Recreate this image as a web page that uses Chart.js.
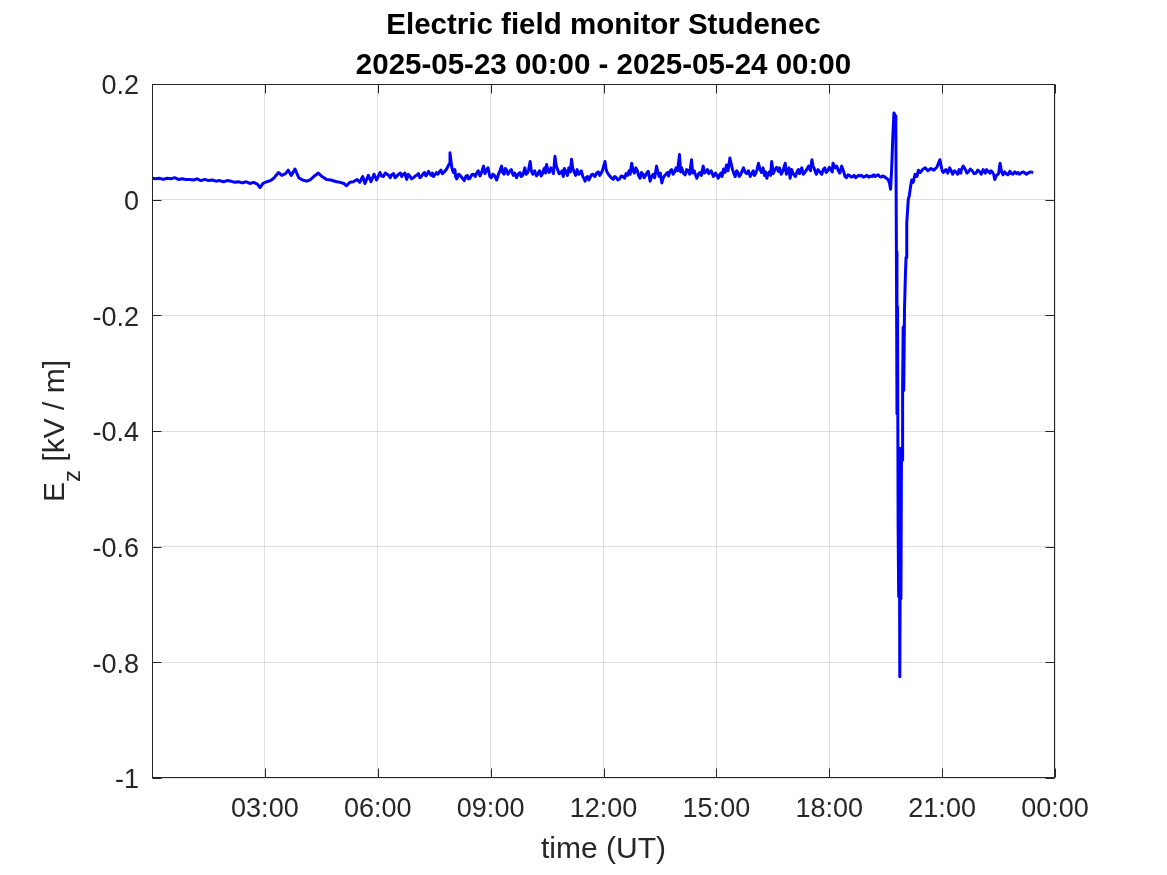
<!DOCTYPE html>
<html><head><meta charset="utf-8">
<script src="https://cdn.jsdelivr.net/npm/chart.js@4/dist/chart.umd.min.js"></script>
<style>html,body{margin:0;padding:0;background:#fff;}#wrap{width:1167px;height:875px;}</style>
</head><body><div id="wrap"><canvas id="c" width="1167" height="875"></canvas></div>
<script>
// ---- data: time in hours (UT) since 2025-05-23 00:00, Ez in V/m ----
const tA = [0.0,0.1,0.2,0.3,0.4,0.5,0.6,0.7,0.8,0.9, 1.0,1.1,1.2,1.3,1.4,1.5,1.6,1.7,1.8,1.9, 2.0,2.1,2.2,2.3,2.4,2.5,2.6,2.7,2.8,2.87];
const vA = [37,36,37,35,37,36,38,35,36,35, 35,34,36,33,35,33,34,32,33,31, 33,32,30,31,29,31,28,30,27,21];
const tB = [2.95,3.05,3.15,3.25,3.36,3.45,3.55,3.62,3.7,3.8, 3.9,4.0,4.11,4.2,4.3,4.42,4.5,4.64,4.75,4.91, 5.0,5.1,5.17,5.26,5.35,5.45,5.52,5.6,5.66,5.75, 5.82,5.9,5.97];
const vB = [28,31,33,38,47,42,45,51,42,53, 38,34,32,34,40,46,41,35,34,31, 30,28,24,30,31,35,30,40,28,42, 31,44,34];
const tC = [6.06,6.15,6.25,6.33,6.42,6.5,6.6,6.68,6.77,6.85, 6.95,7.05,7.12,7.2,7.28,7.35,7.42,7.48,7.56,7.65,
            7.72,7.83,7.9,7.92,7.97,8.05,8.1,8.2,8.3,8.38, 8.45,8.55,8.63,8.72,8.81,8.88,8.98,9.06,9.16,9.22,
            9.29,9.36,9.42,9.51,9.6,9.69,9.78,9.85,9.91,9.98, 10.05,10.12,10.22,10.3,10.38,10.44,10.49,10.56,10.64,10.71,
            10.78,10.86,10.93,11.0,11.08,11.15,11.22,11.3,11.38,11.45, 11.51,11.58,11.64,11.72,11.82,11.9,11.97];
const vC = [47,40,44,38,45,40,46,44,35,41, 38,43,38,44,41,49,42,40,47,49,
            45,53,62,81,55,52,36,41,33,42, 37,44,46,41,58,50,40,44,34,46,
            58,44,52,49,42,38,47,42,55,46, 66,44,41,50,45,55,61,47,52,75,
            52,46,40,48,55,70,48,52,46,40, 32,40,38,44,46,42,50];
const tD = [12.04,12.1,12.18,12.26,12.34,12.43,12.52,12.6,12.68,12.75, 12.82,12.9,12.97,13.05,13.12,13.19,13.24,13.32,13.41,13.48,
            13.55,13.63,13.7,13.77,13.85,13.93,14.02,14.08,14.17,14.25, 14.34,14.41,14.48,14.56,14.65,14.72,14.8,14.92,15.05,15.12,
            15.19,15.27,15.36,15.43,15.5,15.58,15.65,15.72,15.8,15.9, 15.98,16.05,16.12,16.2,16.28,16.34,16.41,16.47,16.55,16.65,
            16.72,16.83,16.9,16.96,17.05,17.15,17.21,17.27,17.35,17.45, 17.54,17.6];
const vD = [66,47,40,35,38,36,40,45,50,63, 46,50,37,44,42,49,32,44,58,40,
            29,42,47,49,44,55,78,55,43,50, 69,50,37,47,58,48,45,40,37,46,
            53,60,72,52,40,46,44,55,45,40, 50,46,63,47,42,37,48,66,51,49,
            44,63,50,37,44,49,45,55,47,58, 69,54];
const tE = [17.66,17.75,17.84,17.92,18.0,18.05,18.1,18.16,18.24,18.33, 18.38,18.42,18.5,18.58,18.66,18.74,18.82,18.9,19.0,19.1,
            19.18,19.26,19.34,19.42,19.5,19.56,19.6,19.63];
const vE = [44,48,52,47,56,51,63,55,50,58, 49,40,43,39,42,40,41,39,42,41,
            43,42,40,41,38,35,29,18];
const tSpike = [19.66,19.69,19.72,19.75,19.77,19.785,19.8,19.815,19.83,19.845, 19.86,19.875,19.89,19.905,19.92,19.935,19.95,19.965,19.98,20.0,
                20.02,20.04,20.06,20.08,20.1,20.13,20.16,20.19,20.23,20.28, 20.33,20.37,20.42,20.48,20.55,20.62,20.7,20.78,20.86,20.94];
const vSpike = [55,110,150,145,120,-90,-370,-185,-560,-686, -430,-825,-560,-690,-430,-450,-320,-220,-330,-190,
                -140,-100,-40,-20,0,8,22,34,30,44, 40,51,47,52,55,50,54,51,56,69];
const tF = [21.0,21.03,21.1,21.2,21.28,21.38,21.45,21.5,21.56,21.62, 21.7,21.8,21.9,22.0,22.09,22.15,22.21,22.27,22.33,22.4,
            22.45,22.5,22.54,22.58,22.62,22.7,22.8,22.88,22.98,23.05, 23.12,23.2,23.28,23.35,23.42];
const vF = [50,47,52,55,44,47,52,50,58,52, 48,50,46,48,52,46,50,46,48,35,
            42,45,63,48,43,45,49,44,45,44, 47,46,46,48,47];
// extra in-between samples (short-period fluctuations)
const tFineC = [6.1,6.2,6.29,6.37,6.46,6.55,6.64,6.72,6.81,6.9, 7.0,7.08,7.16,7.24,7.31,7.38,7.45,7.52,7.6,7.68,
                7.77,8.01,8.07,8.15,8.25,8.34,8.41,8.5,8.59,8.67, 8.76,8.85,8.93,9.02,9.11,9.19,9.25,9.32,9.39,9.46,
                9.55,9.64,9.73,9.81,9.88,9.94,10.01,10.08,10.17,10.26, 10.34,10.41,10.46,10.52,10.6,10.67,10.74,10.82,10.9,10.96,
                11.04,11.12,11.18,11.26,11.34,11.41,11.48,11.54,11.61,11.68, 11.77,11.86,11.93];
const vFineC = [41,46,42,43,38,44,40,46,44,36, 41,45,40,47,44,45,46,43,44,51,
                48,47,40,44,37,40,36,43,40,50, 47,45,55,38,41,40,50,47,54,44,
                52,46,44,40,48,44,52,50,50,45, 41,52,46,50,55,45,60,45,50,54,
                42,48,55,42,44,50,37,38,34,43, 40,48,45];
const tFineD = [12.07,12.14,12.22,12.3,12.38,12.47,12.56,12.64,12.71,12.78, 12.86,12.93,13.01,13.08,13.15,13.21,13.28,13.36,13.44,13.51,
                13.59,13.66,13.73,13.81,13.89,13.97,14.05,14.12,14.21,14.29, 14.37,14.44,14.52,14.6,14.68,14.76,14.86,14.98,15.08,15.15,
                15.23,15.31,15.4,15.46,15.54,15.61,15.68,15.76,15.85,15.94, 16.01,16.08,16.16,16.24,16.31,16.37,16.44,16.51,16.6,16.68,
                16.77,16.86,16.93,17.0,17.1,17.18,17.24,17.31,17.4,17.5, 17.57];
const vFineD = [52,43,37,40,34,41,37,42,44,52, 55,42,47,38,46,42,40,38,48,46,
                38,44,41,52,48,50,48,46,52,44, 46,44,44,42,46,52,50,46,42,40,
                47,50,60,46,50,40,49,48,50,45, 42,52,52,55,48,44,42,45,56,55,
                50,44,55,52,40,52,50,44,52,50, 58];
const tFineE = [17.63,17.7,17.8,17.88,17.96,18.08,18.2,18.28,18.46,18.54, 18.62,18.7,18.78,18.86,18.95,19.05,19.14,19.22,19.3,19.38, 19.46];
const vFineE = [48,52,44,55,50,48,58,46,38,42, 40,38,42,42,40,39,40,40,43,39, 40];
const tFineF = [21.15,21.24,21.33,21.41,21.48,21.66,21.75,21.85,21.95,22.04, 22.18,22.24,22.3,22.37,22.66,22.75,22.84,22.93,23.02,23.08, 23.16,23.24,23.32];
const vFineF = [46,50,50,44,46,46,53,45,51,44, 52,48,50,44,48,43,45,48,47,45, 48,44,47];

const titleLines = ['Electric field monitor Studenec', '2025-05-23 00:00 - 2025-05-24 00:00'];
const xTickHours = [0,3,6,9,12,15,18,21,24];
const yTickValues = [-1,-0.8,-0.6,-0.4,-0.2,0,0.2];

// ---- build ----
const timeH = [].concat(tA,tB,tC,tD,tE,tSpike,tF,tFineC,tFineD,tFineE,tFineF);
const ezVm = [].concat(vA,vB,vC,vD,vE,vSpike,vF,vFineC,vFineD,vFineE,vFineF);
const points = timeH.map((t,i)=>({x:t, y:ezVm[i]/1000})).sort((p,q)=>p.x-q.x);

const FONT = '"Liberation Sans", Arial, Helvetica, sans-serif';
const INK = '#262626';
const GRID = 'rgba(38,38,38,0.15)';

const boxTicks = {
  id:'boxTicks',
  afterDraw(chart){
    const {ctx, chartArea:a, scales:{x,y}} = chart;
    const L=Math.round(a.left)+0.5, R=Math.round(a.right)-0.5, T=Math.round(a.top)+0.5, B=Math.round(a.bottom)-0.5;
    ctx.save();
    ctx.strokeStyle=INK; ctx.lineWidth=1;
    ctx.strokeRect(L,T,R-L,B-T);
    const len=9;
    ctx.beginPath();
    xTickHours.forEach(h=>{const p=Math.round(x.getPixelForValue(h))+0.5; ctx.moveTo(p,B); ctx.lineTo(p,B-len); ctx.moveTo(p,T); ctx.lineTo(p,T+len);});
    yTickValues.forEach(v=>{const p=Math.round(y.getPixelForValue(v))+0.5; ctx.moveTo(L,p); ctx.lineTo(L+len,p); ctx.moveTo(R,p); ctx.lineTo(R-len,p);});
    ctx.stroke();
    // title
    const cxT=(a.left+a.right)/2;
    ctx.fillStyle='#000'; ctx.textAlign='center'; ctx.textBaseline='alphabetic';
    ctx.font='bold 29.5px '+FONT;
    ctx.fillText(titleLines[0],cxT,34);
    ctx.fillText(titleLines[1],cxT,74);
    // y axis title with subscript
    const big='30px '+FONT, small='24px '+FONT;
    ctx.fillStyle=INK;
    ctx.font=big; const wE=ctx.measureText('E').width; const wRest=ctx.measureText(' [kV / m]').width;
    ctx.font=small; const wz=ctx.measureText('z').width;
    const total=wE+wz+wRest;
    ctx.translate(64,(a.top+a.bottom)/2);
    ctx.rotate(-Math.PI/2);
    ctx.textAlign='left';
    let cx=-total/2;
    ctx.font=big; ctx.fillText('E',cx,0); cx+=wE;
    ctx.font=small; ctx.fillText('z',cx,16); cx+=wz;
    ctx.font=big; ctx.fillText(' [kV / m]',cx,0);
    ctx.restore();
  }
};

new Chart(document.getElementById('c'), {
  type:'line',
  data:{datasets:[{data:points, borderColor:'#0000ff', borderWidth:3, borderJoinStyle:'round', pointRadius:0, tension:0, fill:false}]},
  options:{
    responsive:false, animation:false, devicePixelRatio:1,
    layout:{padding:{left:0,right:112,top:84,bottom:0}},
    plugins:{ legend:{display:false}, tooltip:{enabled:false}, title:{display:false} },
    scales:{
      x:{type:'linear', min:0, max:24,
         afterBuildTicks(s){ s.ticks = xTickHours.map(v=>({value:v})); },
         ticks:{autoSkip:false, maxRotation:0, color:INK, font:{family:FONT,size:27}, padding:15,
                callback:v=> v===0 ? '' : String(v%24).padStart(2,'0')+':00'},
         grid:{color:GRID, drawTicks:false}, border:{display:false},
         title:{display:true, text:'time (UT)', color:INK, font:{family:FONT,size:30}, padding:{top:0,bottom:7}},
         afterFit(s){ s.height=97; }},
      y:{min:-1, max:0.2,
         afterBuildTicks(s){ s.ticks = yTickValues.map(v=>({value:v})); },
         ticks:{color:INK, font:{family:FONT,size:27}, padding:13, labelOffset:3, callback:v=>String(Math.round(v*10)/10)},
         grid:{color:GRID, drawTicks:false}, border:{display:false},
         afterFit(s){ s.width=152; }}
    }
  },
  plugins:[boxTicks]
});
</script></body></html>
